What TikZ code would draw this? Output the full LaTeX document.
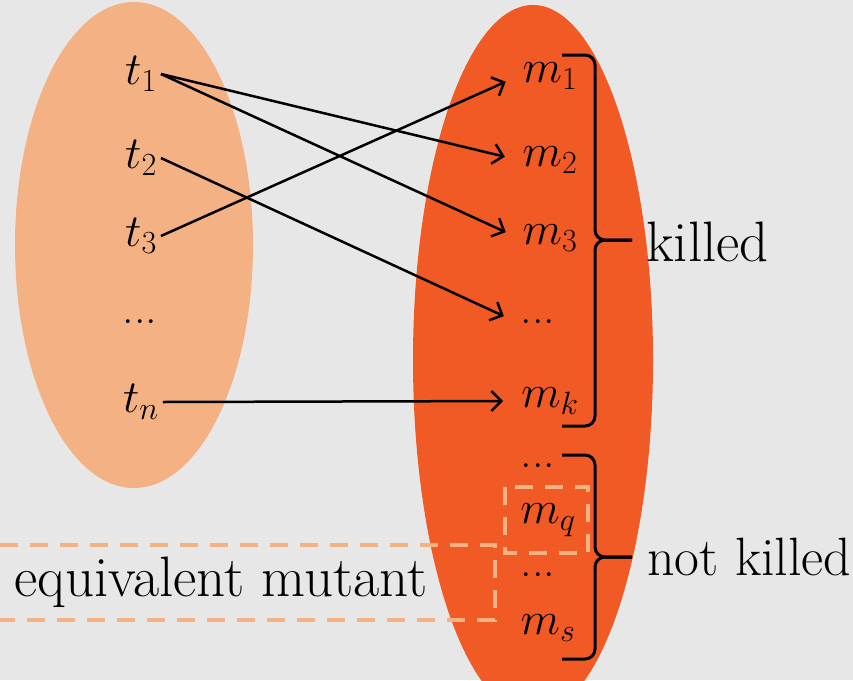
\RequirePackage{fix-cm}
\documentclass[tikz,border=0pt]{standalone}
\usepackage{tikz}
\usetikzlibrary{arrows.meta}
\definecolor{bgcol}{HTML}{E7E7E7}
\definecolor{lightor}{HTML}{F4B183}
\definecolor{darkor}{HTML}{F15A24}

\begin{document}
\begin{tikzpicture}[x=1pt,y=-1pt,
  every node/.style={font=\fontsize{46}{54}\selectfont,inner sep=4pt},
  arr/.style={line width=2.5pt,shorten >=14pt,
    -{Straight Barb[length=10pt,width=20pt,line width=2.5pt]}},
  lbl/.style={font=\fontsize{57}{66}\selectfont,anchor=west,inner sep=2pt},
  bracepath/.style={line width=3pt,rounded corners=10pt},
  eqbox/.style={draw=lightor,line width=4pt,dash pattern=on 18pt off 12pt}]
  % background
  \fill[bgcol] (0,0) rectangle (853,680);
  \clip (0,0) rectangle (853,680);
  % test set and mutant set
  \fill[lightor] (134,245) ellipse (119 and 243);
  \fill[darkor] (533,360) ellipse (120 and 355);
  % equivalent mutant frames
  \draw[eqbox] (505,487) rectangle (588,553);
  \draw[eqbox] (0,545) -- (495,545) -- (495,620) -- (0,620);
  % tests
  \node (t1) at (141,74) {$t_1$};
  \node (t2) at (141,158) {$t_2$};
  \node (t3) at (141,236) {$t_3$};
  \node (tdots) at (140,322) {...};
  \node (tn) at (141,402) {$t_n$};
  % mutants
  \node (m1) at (550,76) {$m_1$};
  \node (m2) at (550,160) {$m_2$};
  \node (m3) at (550,238) {$m_3$};
  \node (mdots) at (538,322) {...};
  \node (mk) at (550,401) {$m_k$};
  \node (mdotsb) at (538,466) {...};
  \node (mq) at (548,520) {$m_q$};
  \node (mdotsc) at (538,575) {...};
  \node (ms) at (548,628) {$m_s$};
  % kills
  \draw[arr] (t1.east) -- (m2.west);
  \draw[arr] (t1.east) -- (m3.west);
  \draw[arr] (t2.east) -- (mdots.west);
  \draw[arr] (t3.east) -- (m1.west);
  \draw[arr] (tn.east) -- (mk.west);
  % braces
  \coordinate (ktip) at (632,240);
  \coordinate (ntip) at (632,557);
  \draw[bracepath] (562,55) -- (595,55) -- (595,240) -- (ktip);
  \draw[bracepath] (ktip) -- (595,240) -- (595,426) -- (562,426);
  \draw[bracepath] (562,455) -- (595,455) -- (595,557) -- (ntip);
  \draw[bracepath] (ntip) -- (595,557) -- (595,659) -- (562,659);
  % labels
  \node[lbl] (killed) at (644,242) {killed};
  \node[lbl,font=\fontsize{54}{62}\selectfont] (notkilled) at (645,557) {not killed};
  \node[lbl,anchor=center] (equiv) at (221,582) {equivalent mutant};
\end{tikzpicture}
\end{document}
